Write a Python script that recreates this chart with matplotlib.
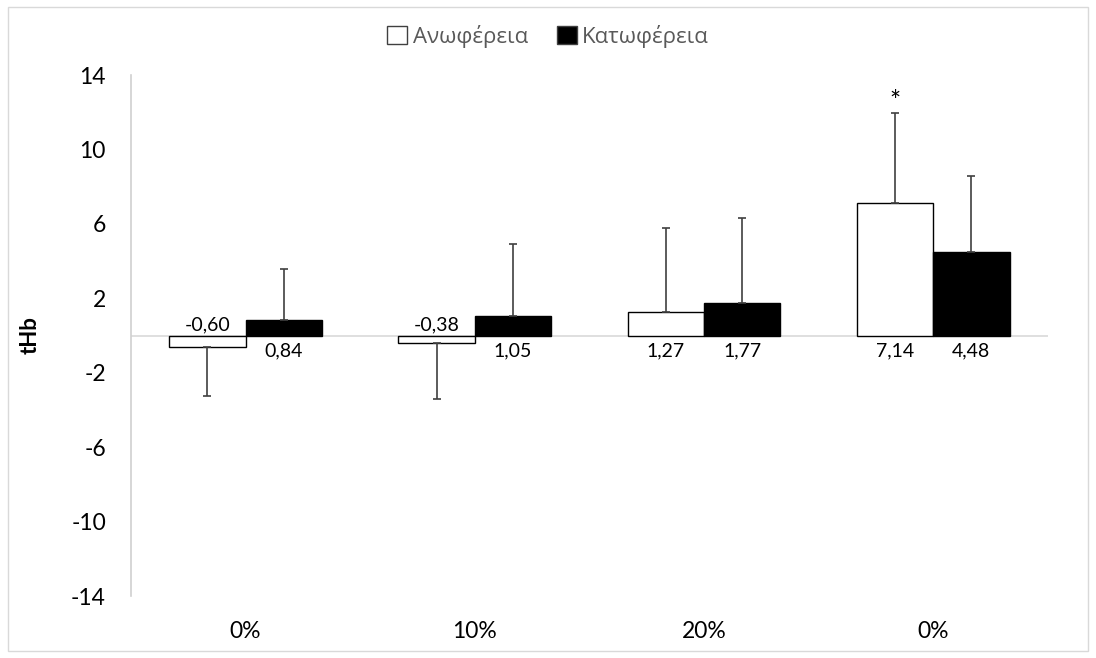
import numpy as np
import matplotlib
matplotlib.use("Agg")
import matplotlib.pyplot as plt
from matplotlib.patches import Rectangle

plt.rcParams['font.family'] = ['Lato', 'DejaVu Sans']

# values
categories = ['0%', '10%', '20%', '0%']
series_names = ['Ανωφέρεια', 'Κατωφέρεια']
upslope = [-0.60, -0.38, 1.27, 7.14]
downslope = [0.84, 1.05, 1.77, 4.48]
upslope_sd = [2.64, 3.04, 4.49, 4.82]
downslope_sd = [2.71, 3.88, 4.56, 4.11]
yticks = [-14, -10, -6, -2, 2, 6, 10, 14]
significant = [False, False, False, True]  # asterisk over upslope bar


def one_sided(vals, sds):
    # error bar only away from zero, like the Excel original
    lower = [sd if v < 0 else 0 for v, sd in zip(vals, sds)]
    upper = [sd if v >= 0 else 0 for v, sd in zip(vals, sds)]
    return [lower, upper]


def fmt(v):
    return f"{v:.2f}".replace('.', ',')


fig = plt.figure(figsize=(10.96, 6.58), dpi=100)
ax = fig.add_axes([0.1195, 0.0942, 0.8365, 0.7918])

# chart border
fig.patches.append(Rectangle((0.007, 0.011), 0.986, 0.978, transform=fig.transFigure,
                             fill=False, edgecolor='#d9d9d9', linewidth=1))

x = np.arange(len(categories))
w = 1 / 3

ax.bar(x - w / 2, upslope, w, color='white', edgecolor='black', linewidth=1,
       label=series_names[0], zorder=2)
ax.bar(x + w / 2, downslope, w, color='black', edgecolor='black', linewidth=1,
       label=series_names[1], zorder=2)

ax.errorbar(x - w / 2, upslope, yerr=one_sided(upslope, upslope_sd), fmt='none',
            ecolor='#404040', elinewidth=1.2, capsize=3, capthick=1.2, zorder=3)
ax.errorbar(x + w / 2, downslope, yerr=one_sided(downslope, downslope_sd), fmt='none',
            ecolor='#404040', elinewidth=1.2, capsize=3, capthick=1.2, zorder=3)

# data labels on the opposite side of the axis
for xs, vals in ((x - w / 2, upslope), (x + w / 2, downslope)):
    for xi, v in zip(xs, vals):
        if v < 0:
            ax.text(xi, 0.3, fmt(v), ha='center', va='baseline', fontsize=14)
        else:
            ax.text(xi, -0.35, fmt(v), ha='center', va='top', fontsize=14)

for xi, v, sd, sig in zip(x - w / 2, upslope, upslope_sd, significant):
    if sig:
        ax.text(xi, v + sd - 0.1, '*', ha='center', va='bottom', fontsize=19)

ax.axhline(0, color='#d9d9d9', linewidth=1.2, zorder=1)

ax.set_xlim(-0.5, len(categories) - 0.5)
ax.set_ylim(-14, 14)
ax.set_yticks(yticks)
ax.set_yticklabels([str(t) for t in yticks])
ax.set_xticks(x)
ax.set_xticklabels(categories)
ax.tick_params(axis='both', length=0, labelsize=16.5)
ax.tick_params(axis='y', pad=18)
ax.tick_params(axis='x', pad=18)

for s in ('top', 'right', 'bottom'):
    ax.spines[s].set_visible(False)
ax.spines['left'].set_color('#d0d0d0')
ax.spines['left'].set_linewidth(1.2)

ax.set_ylabel('tHb', fontsize=16, fontweight='bold', labelpad=22)

leg = fig.legend(loc='upper center', bbox_to_anchor=(0.5, 0.993), ncol=2, frameon=False,
                 prop={'family': ['Open Sans', 'DejaVu Sans'], 'size': 16},
                 handlelength=0.9, handleheight=0.9, handletextpad=0.25,
                 columnspacing=1.3)
for t in leg.get_texts():
    t.set_color('#595959')
for h in leg.legend_handles:
    h.set_edgecolor('#404040')

fig.savefig('out.png', dpi=100)
